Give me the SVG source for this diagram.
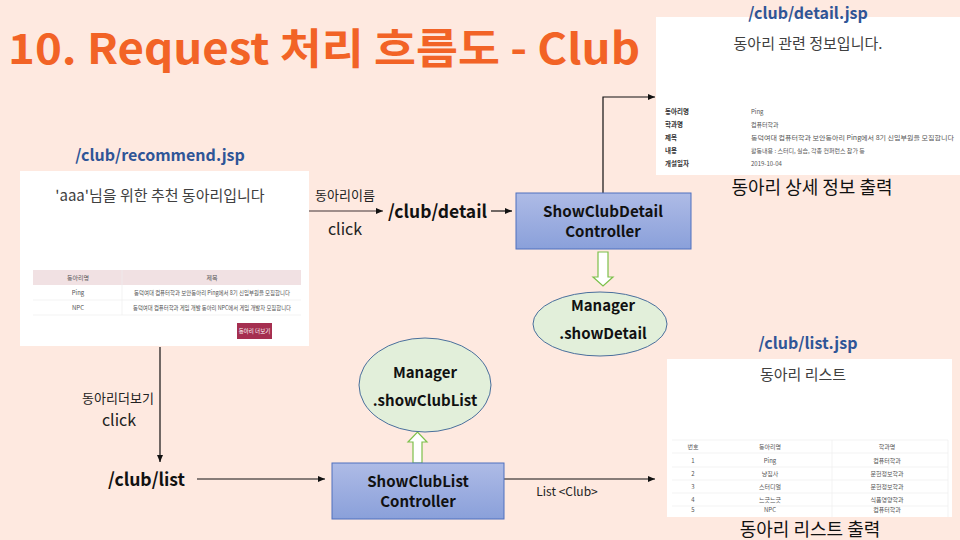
<svg xmlns="http://www.w3.org/2000/svg" width="960" height="540" viewBox="0 0 960 540">
<defs>
<style>
.t{font-family:"Noto Sans CJK KR","Liberation Sans",sans-serif}
.title{font-size:42px;font-weight:bold;fill:#f26326}
.jsp{font-size:16px;font-weight:bold;fill:#2f5597}
.panel{fill:#ffffff}
.ptitle{font-size:15px;fill:#404040}
.sm{font-size:6px;fill:#555}
.smb{font-size:6.5px;fill:#333;font-weight:bold}
.lbl{font-size:13px;fill:#222}
.clk{font-size:16px;fill:#222}
.url{font-size:18px;font-weight:bold;fill:#111}
.ctl{fill:url(#blue);stroke:#4f71be;stroke-width:1}
.ctlt{font-size:15px;font-weight:bold;fill:#111}
.mgr{fill:#e2efda;stroke:#4a6f9c;stroke-width:1}
.out{font-size:18px;fill:#111}
.ln{stroke:#111;stroke-width:1.2;fill:none}
.garrow{fill:#ffffff;stroke:#7cc04a;stroke-width:1.2}
.row{stroke:#eeeeee;stroke-width:0.7}
</style>
<linearGradient id="blue" x1="0" y1="0" x2="0" y2="1">
<stop offset="0" stop-color="#aebbe6"/>
<stop offset="1" stop-color="#8aa0da"/>
</linearGradient>
<marker id="ah" markerWidth="8" markerHeight="8" refX="7" refY="4" orient="auto" markerUnits="userSpaceOnUse">
<path d="M0,1 L7,4 L0,7 Z" fill="#111"/>
</marker>
</defs>
<rect width="960" height="540" fill="#fee9e0"/>
<text class="t title" x="8" y="64" textLength="632" lengthAdjust="spacingAndGlyphs">10. Request 처리 흐름도 - Club</text>

<g id="recommend">
<text class="t jsp" x="160" y="161" text-anchor="middle">/club/recommend.jsp</text>
<rect class="panel" x="20" y="171" width="289" height="175"/>
<text class="t ptitle" x="160" y="201" text-anchor="middle">'aaa'님을 위한 추천 동아리입니다</text>
<rect x="33" y="270" width="268" height="15" fill="#f1e1e3"/>
<line class="row" x1="33" y1="300" x2="301" y2="300"/>
<line class="row" x1="33" y1="315" x2="301" y2="315"/>
<line class="row" x1="122" y1="270" x2="122" y2="315"/>
<text class="t sm" x="78" y="280" text-anchor="middle">동아리명</text>
<text class="t sm" x="212" y="280" text-anchor="middle">제목</text>
<text class="t sm" x="78" y="295" text-anchor="middle">Ping</text>
<text class="t sm" x="212" y="295" text-anchor="middle" textLength="156" lengthAdjust="spacingAndGlyphs">동덕여대 컴퓨터학과 보안동아리 Ping에서 8기 신입부원을 모집합니다</text>
<text class="t sm" x="78" y="310" text-anchor="middle">NPC</text>
<text class="t sm" x="212" y="310" text-anchor="middle" textLength="158" lengthAdjust="spacingAndGlyphs">동덕여대 컴퓨터학과 게임 개발 동아리 NPC에서 게임 개발자 모집합니다</text>
<rect x="237" y="323" width="35" height="16" fill="#a52f50"/>
<text class="t" x="254.5" y="333" text-anchor="middle" font-size="5.5" fill="#fff">동아리 더보기</text>
</g>

<g id="connectors">
<line x1="309" y1="211" x2="383" y2="211" stroke="#7f6f6f" stroke-width="1.5" marker-end="url(#ah)"/>
<line class="ln" x1="491" y1="211" x2="512" y2="211" marker-end="url(#ah)"/>
<polyline class="ln" points="603,193 603,97 655,97" marker-end="url(#ah)"/>
<line class="ln" x1="160" y1="347" x2="160" y2="462" marker-end="url(#ah)"/>
<line class="ln" x1="197" y1="479" x2="325" y2="479" marker-end="url(#ah)"/>
<line class="ln" x1="504" y1="479" x2="655" y2="479" marker-end="url(#ah)"/>
<polygon class="garrow" points="598,252 608,252 608,277 613,277 603,286 593,277 598,277"/>
<polygon class="garrow" points="413,463 422,463 422,442 427,442 417.5,432 408,442 413,442"/>
<text class="t lbl" x="345" y="200" text-anchor="middle">동아리이름</text>
<text class="t clk" x="345" y="235" text-anchor="middle">click</text>
<text class="t lbl" x="118" y="403" text-anchor="middle">동아리더보기</text>
<text class="t clk" x="119" y="426" text-anchor="middle">click</text>
<text class="t" x="567" y="496" text-anchor="middle" font-size="12" fill="#222">List  &lt;Club&gt;</text>
</g>

<g id="url-detail">
<text class="t url" x="388" y="218" textLength="99" lengthAdjust="spacingAndGlyphs">/club/detail</text>
</g>

<g id="url-list">
<text class="t url" x="108" y="486" textLength="77" lengthAdjust="spacingAndGlyphs">/club/list</text>
</g>

<g id="showClubDetailController">
<rect class="ctl" x="516" y="193" width="175" height="56"/>
<text class="t ctlt" x="603" y="217" text-anchor="middle" textLength="120" lengthAdjust="spacingAndGlyphs">ShowClubDetail</text>
<text class="t ctlt" x="603" y="237" text-anchor="middle">Controller</text>
</g>

<g id="managerShowDetail">
<ellipse class="mgr" cx="600" cy="324" rx="67" ry="32"/>
<text class="t ctlt" x="603" y="311" text-anchor="middle">Manager</text>
<text class="t ctlt" x="603" y="339" text-anchor="middle">.showDetail</text>
</g>

<g id="showClubListController">
<rect class="ctl" x="332" y="463" width="172" height="56"/>
<text class="t ctlt" x="418" y="487" text-anchor="middle">ShowClubList</text>
<text class="t ctlt" x="418" y="507" text-anchor="middle">Controller</text>
</g>

<g id="managerShowClubList">
<ellipse class="mgr" cx="425" cy="385" rx="66" ry="47"/>
<text class="t ctlt" x="425" y="378" text-anchor="middle">Manager</text>
<text class="t ctlt" x="425" y="406" text-anchor="middle">.showClubList</text>
</g>

<g id="detailJsp">
<rect class="panel" x="656" y="17" width="304" height="158"/>
<text class="t jsp" x="808" y="19" text-anchor="middle">/club/detail.jsp</text>
<text class="t ptitle" x="808" y="49" text-anchor="middle">동아리 관련 정보입니다.</text>
<text class="t smb" x="665" y="114">동아리명</text>
<text class="t smb" x="665" y="127">학과명</text>
<text class="t smb" x="665" y="140">제목</text>
<text class="t smb" x="665" y="153">내용</text>
<text class="t smb" x="665" y="166">개설일자</text>
<text class="t sm" x="751" y="114">Ping</text>
<text class="t sm" x="751" y="127">컴퓨터학과</text>
<text class="t sm" x="751" y="140" textLength="203" lengthAdjust="spacingAndGlyphs">동덕여대 컴퓨터학과 보안동아리 Ping에서 8기 신입부원을 모집합니다</text>
<text class="t sm" x="751" y="153">활동내용 : 스터디, 실습, 각종 컨퍼런스 참가 등</text>
<text class="t sm" x="751" y="166">2019-10-04</text>
<text class="t out" x="812" y="194" text-anchor="middle">동아리 상세 정보 출력</text>
</g>

<g id="listJsp">
<text class="t jsp" x="808" y="349" text-anchor="middle">/club/list.jsp</text>
<rect class="panel" x="667" y="359" width="285" height="158"/>
<text class="t ptitle" x="803" y="380" text-anchor="middle">동아리 리스트</text>
<line class="row" x1="672" y1="440" x2="948" y2="440"/>
<line class="row" x1="672" y1="453" x2="948" y2="453"/>
<line class="row" x1="672" y1="467" x2="948" y2="467"/>
<line class="row" x1="672" y1="480" x2="948" y2="480"/>
<line class="row" x1="672" y1="493" x2="948" y2="493"/>
<line class="row" x1="672" y1="506" x2="948" y2="506"/>
<line class="row" x1="832" y1="440" x2="832" y2="517"/>
<line class="row" x1="948" y1="440" x2="948" y2="517"/>
<text class="t sm" x="693" y="449" text-anchor="middle">번호</text>
<text class="t sm" x="770" y="449" text-anchor="middle">동아리명</text>
<text class="t sm" x="887" y="449" text-anchor="middle">학과명</text>
<text class="t sm" x="693" y="463" text-anchor="middle">1</text>
<text class="t sm" x="770" y="463" text-anchor="middle" fill="#c0504d">Ping</text>
<text class="t sm" x="887" y="463" text-anchor="middle">컴퓨터학과</text>
<text class="t sm" x="693" y="476" text-anchor="middle">2</text>
<text class="t sm" x="770" y="476" text-anchor="middle">냥집사</text>
<text class="t sm" x="887" y="476" text-anchor="middle">문헌정보학과</text>
<text class="t sm" x="693" y="489" text-anchor="middle">3</text>
<text class="t sm" x="770" y="489" text-anchor="middle">스터디얼</text>
<text class="t sm" x="887" y="489" text-anchor="middle">문헌정보학과</text>
<text class="t sm" x="693" y="502" text-anchor="middle">4</text>
<text class="t sm" x="770" y="502" text-anchor="middle">느긋느긋</text>
<text class="t sm" x="887" y="502" text-anchor="middle">식품영양학과</text>
<text class="t sm" x="693" y="512" text-anchor="middle">5</text>
<text class="t sm" x="770" y="512" text-anchor="middle">NPC</text>
<text class="t sm" x="887" y="512" text-anchor="middle">컴퓨터학과</text>
<text class="t out" x="810" y="536" text-anchor="middle">동아리 리스트 출력</text>
</g>
</svg>
